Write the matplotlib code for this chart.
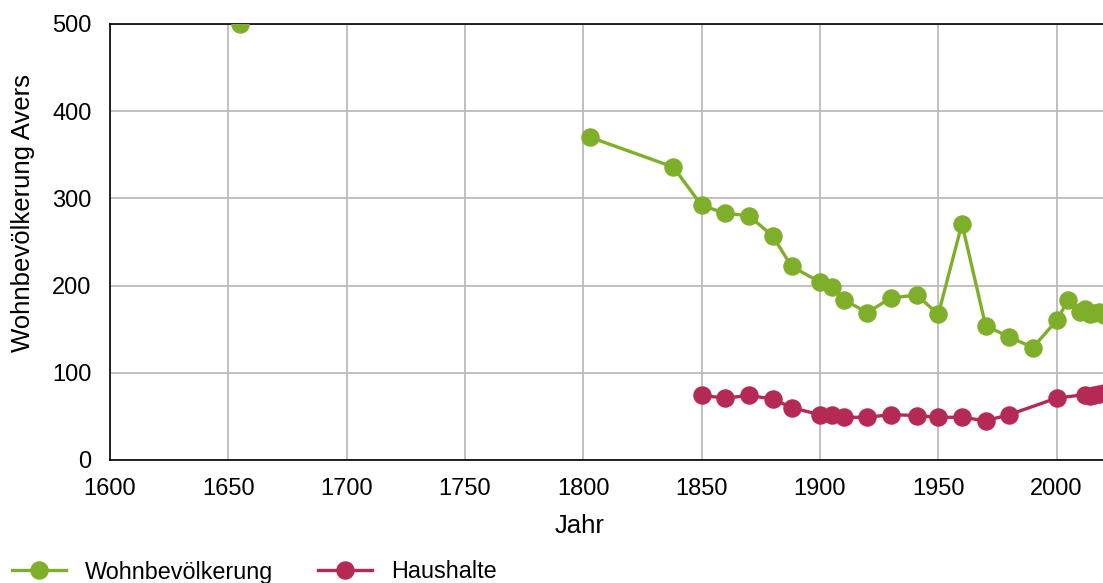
import matplotlib.pyplot as plt

plt.rcParams['font.family'] = ['Liberation Sans', 'DejaVu Sans']

# Wohnbevölkerung (Avers); der Wert von 1655 steht allein
jahre_bev = [1655, 1803, 1838, 1850, 1860, 1870, 1880, 1888, 1900, 1905, 1910,
             1920, 1930, 1941, 1950, 1960, 1970, 1980, 1990, 2000, 2005,
             2010, 2012, 2014, 2016, 2018, 2020]
bevoelkerung = [500, 370, 336, 292, 283, 280, 257, 222, 204, 198, 184,
                169, 186, 189, 167, 271, 154, 141, 129, 160, 184,
                170, 173, 168, 169, 170, 166]

# Haushalte
jahre_hh = [1850, 1860, 1870, 1880, 1888, 1900, 1905, 1910, 1920, 1930, 1941,
            1950, 1960, 1970, 1980, 2000, 2012, 2014, 2016, 2018, 2020]
haushalte = [74, 71, 74, 70, 60, 52, 52, 49, 49, 52, 51,
             49, 49, 45, 52, 71, 75, 73, 74, 76, 77]

gruen = '#7faf2a'
rot = '#b52a55'
stil = dict(lw=2.4, marker='o', ms=12.3, zorder=3)

fig = plt.figure(figsize=(11.03, 5.83), dpi=100)
ax = fig.add_axes([110/1103, 1 - 460/583, 1 - 110/1103, (460 - 24)/583])

ax.plot(jahre_bev[:1], bevoelkerung[:1], color=gruen, ls='none',
        marker='o', ms=12.3, zorder=3)
ax.plot(jahre_bev[1:], bevoelkerung[1:], color=gruen, label='Wohnbevölkerung', **stil)
ax.plot(jahre_hh, haushalte, color=rot, label='Haushalte', **stil)

ax.set_xlim(1600, 2019.6)
ax.set_ylim(0, 500)
ax.set_xticks(range(1600, 2001, 50))
ax.set_yticks(range(0, 501, 100))
ax.grid(True, color='#bbbbbb', lw=1.3)
ax.set_axisbelow(True)
ax.tick_params(length=0, labelsize=17, pad=13.3)
for s in ['top', 'left', 'bottom']:
    ax.spines[s].set_color('black')
    ax.spines[s].set_linewidth(1.2)
ax.spines['right'].set_visible(False)

ax.set_xlabel('Jahr', fontsize=18.5)
ax.set_ylabel('Wohnbevölkerung Avers', fontsize=18.5)
ax.xaxis.set_label_coords(0.473, -0.124)
ax.yaxis.set_label_coords(-0.0755, 0.567)

fs = 16.8 * 100 / 72
fig.legend(loc='center left', bbox_to_anchor=(12/1103, 11/583), ncol=2,
           frameon=False, fontsize=16.8, borderpad=0, borderaxespad=0,
           handlelength=54/fs, handletextpad=19/fs, columnspacing=45/fs)

fig.savefig('out.png', dpi=100)
